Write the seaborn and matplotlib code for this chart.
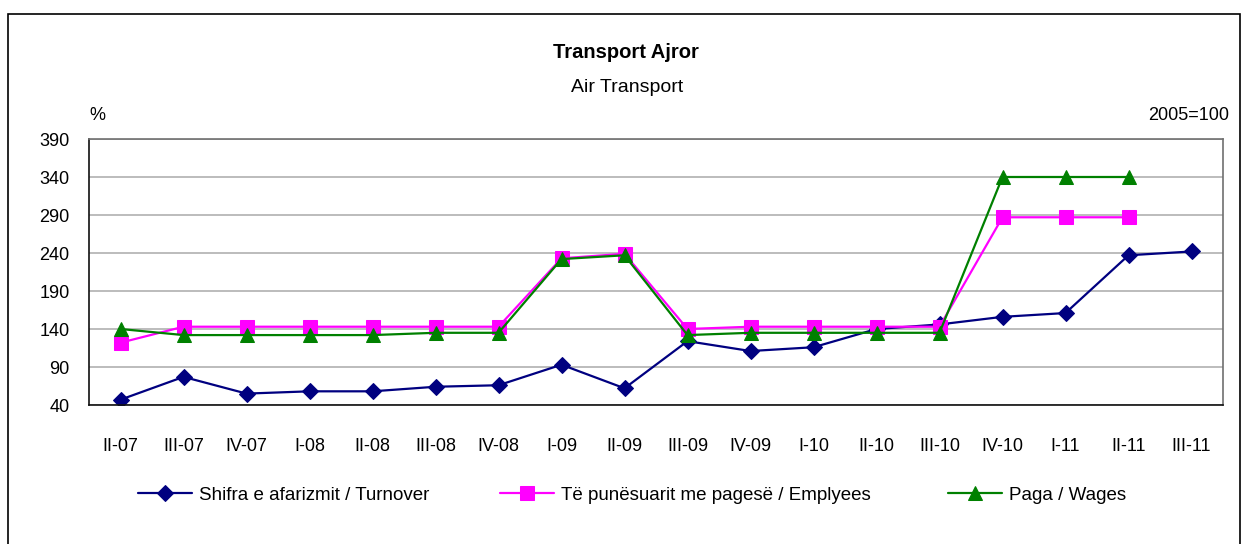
import numpy as np
import pandas as pd
import matplotlib
matplotlib.use("Agg")
import matplotlib.pyplot as plt
from matplotlib.patches import Rectangle
import seaborn as sns

sns.set_style("white")
plt.rcParams['font.family'] = ['Liberation Sans', 'DejaVu Sans']
plt.rcParams['text.color'] = 'black'
plt.rcParams['xtick.color'] = 'black'
plt.rcParams['ytick.color'] = 'black'

# data (2005=100)
quarters = ["II-07", "III-07", "IV-07", "I-08", "II-08", "III-08", "IV-08", "I-09", "II-09",
            "III-09", "IV-09", "I-10", "II-10", "III-10", "IV-10", "I-11", "II-11", "III-11"]
turnover = [47, 77, 55, 58, 58, 64, 66, 93, 62, 124, 111, 116, 140, 146, 156, 161, 237, 242]
employees = [122, 143, 143, 143, 143, 143, 143, 233, 239, 140, 143, 143, 143, 143, 287, 287, 287, np.nan]
wages = [140, 132, 132, 132, 132, 135, 135, 232, 237, 132, 135, 135, 135, 135, 340, 340, 340, np.nan]

names = ["Shifra e afarizmit / Turnover", "Të punësuarit me pagesë / Emplyees", "Paga / Wages"]
colors = ["#000080", "#FF00FF", "#008000"]
markers = ["D", "s", "^"]
msizes = [8, 9.5, 9.5]

df = pd.DataFrame({"x": np.arange(len(quarters)), names[0]: turnover,
                   names[1]: employees, names[2]: wages})

fig = plt.figure(figsize=(12.47, 5.44), dpi=100)
ax = fig.add_axes([89 / 1247, 1 - 405 / 544, (1223 - 89) / 1247, (405 - 139) / 544])

for name, c, m, ms in zip(names, colors, markers, msizes):
    sns.lineplot(data=df, x="x", y=name, ax=ax, color=c, marker=m, markersize=ms,
                 markeredgecolor=c, linewidth=1.6, label=name, legend=False)

ax.set_xlim(-0.5, len(quarters) - 0.5)
ax.set_ylim(40, 390)
ax.set_yticks(np.arange(40, 391, 50))
ax.set_xticks(np.arange(len(quarters)))
ax.set_xticklabels(quarters)
ax.set_xticks(np.arange(-0.5, len(quarters), 1), minor=True)
ax.tick_params(axis="x", which="major", length=0, pad=24, labelsize=13, labelcolor="black")
ax.tick_params(axis="x", which="minor", length=5, width=1, color="#333333", direction="out")
ax.tick_params(axis="y", length=5, width=1, color="#333333", direction="out", labelsize=13,
               pad=9, labelcolor="black")
ax.yaxis.grid(True, color="#b0b0b0", linewidth=1.2)
ax.set_axisbelow(True)
ax.set_xlabel("")
ax.set_ylabel("")
for s in ["left", "bottom"]:
    ax.spines[s].set_color("#111111")
    ax.spines[s].set_linewidth(1.2)
for s in ["top", "right"]:
    ax.spines[s].set_color("#707070")
    ax.spines[s].set_linewidth(1.2)

fig.text(626 / 1247, 1 - 52 / 544, "Transport Ajror", ha="center", va="center",
         fontsize=14.5, fontweight="bold")
fig.text(627 / 1247, 1 - 88 / 544, "Air Transport", ha="center", va="center", fontsize=14)
fig.text(89 / 1247, 1 - 116 / 544, "%", ha="left", va="center", fontsize=13)
fig.text(1229 / 1247, 1 - 116 / 544, "2005=100", ha="right", va="center", fontsize=13)

# one legend per series, placed like the original
handles, labels = ax.get_legend_handles_labels()
leg_x = [138, 500, 948]
for h, l, lx in zip(handles, labels, leg_x):
    lg = fig.legend([h], [l], loc="center left", bbox_to_anchor=(lx / 1247, 1 - 495 / 544),
                    frameon=False, fontsize=13.5, handlelength=2.9, handletextpad=0.35,
                    borderpad=0, borderaxespad=0, labelcolor="black")

fig.patches.append(Rectangle((8 / 1247, -0.05), (1240 - 8) / 1247, 1.05 - 14 / 544,
                             transform=fig.transFigure, fill=False, edgecolor="black",
                             linewidth=1.2))

fig.savefig("out.png", dpi=100)
